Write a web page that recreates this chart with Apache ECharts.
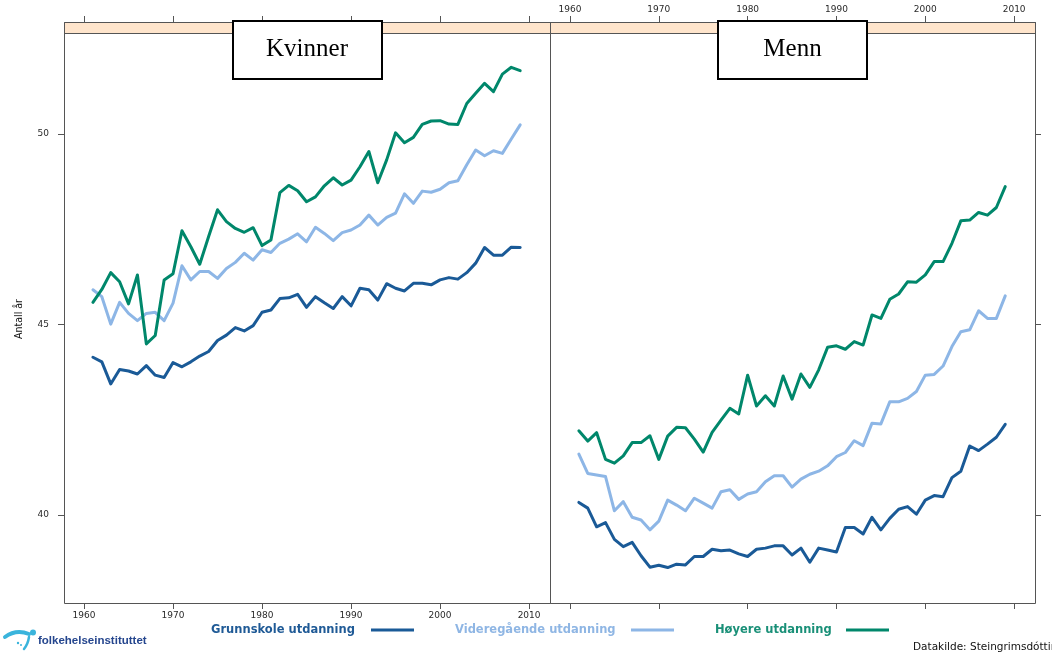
<!DOCTYPE html>
<html>
<head>
<meta charset="utf-8">
<title>Antall år – Kvinner og Menn etter utdanning</title>
<script src="https://cdn.jsdelivr.net/npm/echarts@6/dist/echarts.min.js"></script>
<style>
  html, body { margin: 0; padding: 0; background: #ffffff; }
  #chart { width: 1052px; height: 652px; }
</style>
</head>
<body>
<div id="chart"></div>
<script>
// ---- Data -------------------------------------------------------------
const years = [
  1961, 1962, 1963, 1964, 1965, 1966, 1967, 1968, 1969, 1970,
  1971, 1972, 1973, 1974, 1975, 1976, 1977, 1978, 1979, 1980,
  1981, 1982, 1983, 1984, 1985, 1986, 1987, 1988, 1989, 1990,
  1991, 1992, 1993, 1994, 1995, 1996, 1997, 1998, 1999, 2000,
  2001, 2002, 2003, 2004, 2005, 2006, 2007, 2008, 2009
];

const panels = ['Kvinner', 'Menn'];
const educationLevels = ['Grunnskole utdanning', 'Videregående utdanning', 'Høyere utdanning'];
const xTicks = [1960, 1970, 1980, 1990, 2000, 2010];
const yTicks = [40, 45, 50];
const yAxisTitle = 'Antall år';
const sourceText = 'Datakilde: Steingrimsdóttir';
const logoText = 'folkehelseinstituttet';

const kvinnerGrunnskole = [
  44.14, 44.02, 43.44, 43.82, 43.78, 43.70, 43.92, 43.67, 43.61, 44.00,
  43.89, 44.02, 44.17, 44.29, 44.58, 44.72, 44.92, 44.83, 44.97, 45.32,
  45.38, 45.68, 45.70, 45.79, 45.45, 45.73, 45.57, 45.42, 45.73, 45.49,
  45.95, 45.91, 45.64, 46.07, 45.95, 45.88, 46.08, 46.08, 46.04, 46.17,
  46.23, 46.19, 46.36, 46.61, 47.02, 46.82, 46.82, 47.03, 47.02
];
const kvinnerVideregaende = [
  45.91, 45.73, 45.01, 45.58, 45.29, 45.10, 45.29, 45.32, 45.10, 45.56,
  46.54, 46.17, 46.39, 46.39, 46.21, 46.47, 46.63, 46.87, 46.69, 46.96,
  46.89, 47.13, 47.24, 47.38, 47.17, 47.55, 47.39, 47.20, 47.41, 47.48,
  47.61, 47.87, 47.61, 47.81, 47.92, 48.43, 48.18, 48.50, 48.47, 48.55,
  48.72, 48.77, 49.19, 49.58, 49.43, 49.56, 49.49, 49.87, 50.24
];
const kvinnerHoyere = [
  45.58, 45.92, 46.36, 46.12, 45.54, 46.30, 44.49, 44.71, 46.17, 46.33,
  47.46, 47.04, 46.58, 47.31, 48.01, 47.70, 47.52, 47.42, 47.54, 47.07,
  47.22, 48.46, 48.65, 48.51, 48.22, 48.35, 48.64, 48.85, 48.66, 48.79,
  49.14, 49.54, 48.72, 49.32, 50.03, 49.77, 49.91, 50.25, 50.34, 50.35,
  50.26, 50.25, 50.80, 51.07, 51.33, 51.11, 51.57, 51.75, 51.66
];

const mennGrunnskole = [
  40.33, 40.18, 39.69, 39.80, 39.36, 39.17, 39.28, 38.93, 38.63, 38.68,
  38.62, 38.71, 38.69, 38.91, 38.91, 39.10, 39.06, 39.08, 38.98, 38.91,
  39.10, 39.13, 39.19, 39.19, 38.95, 39.13, 38.76, 39.13, 39.08, 39.03,
  39.67, 39.67, 39.50, 39.94, 39.61, 39.91, 40.15, 40.22, 40.02, 40.39,
  40.51, 40.48, 40.98, 41.15, 41.81, 41.69, 41.86, 42.04, 42.38
];
const mennVideregaende = [
  41.60, 41.09, 41.05, 41.01, 40.11, 40.35, 39.94, 39.87, 39.61, 39.84,
  40.39, 40.26, 40.11, 40.44, 40.31, 40.18, 40.61, 40.66, 40.41, 40.55,
  40.61, 40.87, 41.03, 41.03, 40.73, 40.94, 41.07, 41.15, 41.29, 41.53,
  41.64, 41.95, 41.82, 42.41, 42.39, 42.97, 42.97, 43.06, 43.24, 43.67,
  43.69, 43.91, 44.42, 44.81, 44.86, 45.36, 45.16, 45.16, 45.75
];
const mennHoyere = [
  42.21, 41.94, 42.16, 41.46, 41.36, 41.55, 41.90, 41.90, 42.08, 41.46,
  42.07, 42.30, 42.29, 41.99, 41.65, 42.17, 42.49, 42.80, 42.65, 43.67,
  42.86, 43.13, 42.86, 43.65, 43.04, 43.70, 43.35, 43.81, 44.40, 44.44,
  44.35, 44.55, 44.46, 45.25, 45.16, 45.66, 45.80, 46.12, 46.11, 46.30,
  46.65, 46.65, 47.13, 47.72, 47.74, 47.94, 47.87, 48.07, 48.62
];

const panelValues = [
  [kvinnerGrunnskole, kvinnerVideregaende, kvinnerHoyere],
  [mennGrunnskole, mennVideregaende, mennHoyere]
];

// ---- Styling and layout ----------------------------------------------
const lineColors = ['#1a5a97', '#8db6e6', '#00876b'];
const legendTextColors = ['#1f5a96', '#8fb6e4', '#1a9078'];
const frameColor = '#555555';
const stripColor = '#ffe5cc';
const tickFont = '"DejaVu Sans", Arial, sans-serif';

const layout = {
  panels: [{ left: 64, width: 486 }, { left: 550, width: 485 }],
  frameTop: 22,
  stripHeight: 11,
  plotBottom: 603,
  xRange: [1957.75, 2012.35],
  yRange: [37.69, 52.65],
  titleBox: { width: 149, top: 21, height: 58 },
  legendY: 630,
  legendTextX: [211, 455, 715],
  legendLineX: [371, 631, 846],
  legendLineLen: 43
};
const plotTop = layout.frameTop + layout.stripHeight;
const plotHeight = layout.plotBottom - plotTop;

// ---- Axes -------------------------------------------------------------
const grids = layout.panels.map(p => ({
  left: p.left, top: plotTop, width: p.width, height: plotHeight,
  containLabel: false, show: false
}));

function xAxisFor(gridIndex, position, showLabels) {
  return {
    type: 'value',
    gridIndex: gridIndex,
    position: position,
    offset: position === 'top' ? layout.stripHeight : 0,
    min: layout.xRange[0],
    max: layout.xRange[1],
    axisLine: { show: false },
    splitLine: { show: false },
    axisTick: {
      show: true, inside: false, length: 6,
      customValues: xTicks,
      lineStyle: { color: frameColor, width: 1 }
    },
    axisLabel: {
      show: showLabels,
      customValues: xTicks,
      margin: 8,
      fontSize: 9,
      fontFamily: tickFont,
      color: '#2a2a2a',
      formatter: v => String(v)
    }
  };
}

const xAxes = [
  xAxisFor(0, 'bottom', true),
  xAxisFor(0, 'top', false),
  xAxisFor(1, 'bottom', false),
  xAxisFor(1, 'top', true)
];

function yAxisFor(gridIndex, position, showLabels) {
  return {
    type: 'value',
    gridIndex: gridIndex,
    position: position,
    min: layout.yRange[0],
    max: layout.yRange[1],
    axisLine: { show: false },
    splitLine: { show: false },
    axisTick: {
      show: true, inside: false, length: 6,
      customValues: yTicks,
      lineStyle: { color: frameColor, width: 1 }
    },
    axisLabel: {
      show: showLabels,
      customValues: yTicks,
      margin: 15,
      fontSize: 9,
      fontFamily: tickFont,
      color: '#2a2a2a',
      formatter: v => String(v)
    }
  };
}

const yAxes = [
  yAxisFor(0, 'left', true),
  yAxisFor(1, 'right', false)
];

// ---- Series -----------------------------------------------------------
const series = [];
panelValues.forEach((levels, p) => {
  levels.forEach((values, s) => {
    series.push({
      type: 'line',
      name: educationLevels[s],
      xAxisIndex: p * 2,
      yAxisIndex: p,
      data: years.map((yr, i) => [yr, values[i]]),
      symbol: 'none',
      showSymbol: false,
      smooth: false,
      lineStyle: { color: lineColors[s], width: 3, join: 'round', cap: 'round' },
      itemStyle: { color: lineColors[s] },
      z: 3
    });
  });
});

// ---- Panel frames, strips, titles, legend and footer -----------------
const graphics = [];

layout.panels.forEach((p, i) => {
  // strip band above each panel
  graphics.push({
    type: 'rect', z: 5,
    shape: { x: p.left + 0.5, y: layout.frameTop + 0.5, width: p.width, height: layout.stripHeight },
    style: { fill: stripColor, stroke: frameColor, lineWidth: 1 }
  });
  // panel frame
  graphics.push({
    type: 'rect', z: 6,
    shape: { x: p.left + 0.5, y: layout.frameTop + 0.5, width: p.width, height: layout.plotBottom - layout.frameTop },
    style: { fill: 'none', stroke: frameColor, lineWidth: 1 }
  });
  // panel title box
  const cx = p.left + p.width / 2;
  const tb = layout.titleBox;
  graphics.push({
    type: 'rect', z: 20,
    shape: { x: Math.round(cx - tb.width / 2), y: tb.top, width: tb.width, height: tb.height },
    style: { fill: '#ffffff', stroke: '#000000', lineWidth: 2 }
  });
  graphics.push({
    type: 'text', z: 21,
    x: cx, y: tb.top + tb.height / 2 - 1,
    style: {
      text: panels[i],
      textAlign: 'center', textVerticalAlign: 'middle',
      font: '25px "Liberation Serif", "Times New Roman", serif',
      fill: '#000000'
    }
  });
});

// y axis title
graphics.push({
  type: 'text', z: 10,
  x: 19, y: 319,
  rotation: Math.PI / 2,
  style: {
    text: yAxisTitle,
    textAlign: 'center', textVerticalAlign: 'middle',
    font: '10.5px "Liberation Sans Narrow", "DejaVu Sans Condensed", Arial, sans-serif',
    fill: '#111111'
  }
});

// legend: label followed by a line sample
educationLevels.forEach((name, i) => {
  graphics.push({
    type: 'text', z: 10,
    x: layout.legendTextX[i], y: layout.legendY,
    style: {
      text: name,
      textAlign: 'left', textVerticalAlign: 'middle',
      font: 'bold 11.5px "DejaVu Sans", Arial, sans-serif',
      fill: legendTextColors[i]
    }
  });
  graphics.push({
    type: 'line', z: 10,
    shape: {
      x1: layout.legendLineX[i], y1: layout.legendY,
      x2: layout.legendLineX[i] + layout.legendLineLen, y2: layout.legendY
    },
    style: { stroke: lineColors[i], lineWidth: 3 }
  });
});

// institute logo mark and name
graphics.push({
  type: 'bezierCurve', z: 10,
  shape: { x1: 5, y1: 637, cpx1: 16, cpy1: 629, x2: 29, y2: 634 },
  style: { fill: 'none', stroke: '#3ab4dc', lineWidth: 4, lineCap: 'round' }
});
graphics.push({
  type: 'circle', z: 10,
  shape: { cx: 33, cy: 632.5, r: 3 },
  style: { fill: '#3ab4dc' }
});
graphics.push({
  type: 'bezierCurve', z: 10,
  shape: { x1: 29, y1: 637, cpx1: 28, cpy1: 644, x2: 24, y2: 649 },
  style: { fill: 'none', stroke: '#3ab4dc', lineWidth: 2.5, lineCap: 'round' }
});
graphics.push({
  type: 'circle', z: 10,
  shape: { cx: 18, cy: 643, r: 1.2 },
  style: { fill: '#3ab4dc' }
});
graphics.push({
  type: 'circle', z: 10,
  shape: { cx: 21, cy: 645, r: 1 },
  style: { fill: '#3ab4dc' }
});
graphics.push({
  type: 'text', z: 10,
  x: 38, y: 641,
  style: {
    text: logoText,
    textAlign: 'left', textVerticalAlign: 'middle',
    font: 'bold 11.5px "Liberation Sans", Arial, sans-serif',
    fill: '#25468e'
  }
});

// data source note
graphics.push({
  type: 'text', z: 10,
  x: 913, y: 647,
  style: {
    text: sourceText,
    textAlign: 'left', textVerticalAlign: 'middle',
    font: '10.5px "DejaVu Sans", Arial, sans-serif',
    fill: '#111111'
  }
});

// ---- Chart ------------------------------------------------------------
const chart = echarts.init(document.getElementById('chart'), null, { renderer: 'canvas' });
chart.setOption({
  animation: false,
  backgroundColor: '#ffffff',
  grid: grids,
  xAxis: xAxes,
  yAxis: yAxes,
  series: series,
  graphic: { elements: graphics }
});
</script>
</body>
</html>
